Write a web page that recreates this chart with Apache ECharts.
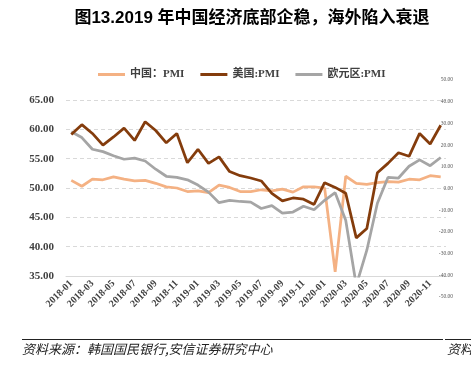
<!DOCTYPE html>
<html>
<head>
<meta charset="utf-8">
<script src="https://cdn.jsdelivr.net/npm/echarts@6/dist/echarts.min.js"></script>
<style>
  html, body { margin: 0; padding: 0; background: #fff; }
  #pmiChart { width: 471px; height: 369px; }
</style>
</head>
<body>
<div id="pmiChart"></div>
<script>
// months 2018-01 .. 2020-12
const months = [];
for (let y = 2018; y <= 2020; y++) {
  for (let m = 1; m <= 12; m++) months.push(y + '-' + (m < 10 ? '0' + m : m));
}

const chinaPmi = [51.3, 50.3, 51.5, 51.4, 51.9, 51.5, 51.2, 51.3, 50.8, 50.2, 50.0, 49.4,
                  49.5, 49.2, 50.5, 50.1, 49.4, 49.4, 49.7, 49.5, 49.8, 49.3, 50.2, 50.2,
                  50.0, 35.7, 52.0, 50.8, 50.6, 50.9, 51.1, 51.0, 51.5, 51.4, 52.1, 51.9];
const usPmi = [59.1, 60.8, 59.3, 57.3, 58.7, 60.2, 58.1, 61.3, 59.8, 57.7, 59.3, 54.3,
               56.6, 54.2, 55.3, 52.8, 52.1, 51.7, 51.2, 49.1, 47.8, 48.3, 48.1, 47.2,
               50.9, 50.1, 49.1, 41.5, 43.1, 52.6, 54.2, 56.0, 55.4, 59.3, 57.5, 60.7];
const euroPmi = [59.6, 58.6, 56.6, 56.2, 55.5, 54.9, 55.1, 54.6, 53.2, 52.0, 51.8, 51.4,
                 50.5, 49.3, 47.5, 47.9, 47.7, 47.6, 46.5, 47.0, 45.7, 45.9, 46.9, 46.3,
                 47.9, 49.2, 44.5, 33.4, 39.4, 47.4, 51.8, 51.7, 53.7, 54.8, 53.8, 55.2];

const seriesNames = ['中国：PMI', '美国:PMI', '欧元区:PMI'];
const seriesColors = ['#f4b183', '#843c0c', '#a5a5a5'];

const serif = '"Liberation Serif", "Noto Sans CJK SC", serif';

const pmiChart = echarts.init(document.getElementById('pmiChart'));
const option = {
  animation: false,
  color: seriesColors,
  title: {
    text: '图13.2019 年中国经济底部企稳，海外陷入衰退',
    left: 247,
    textAlign: 'center',
    top: 5,
    textStyle: {
      fontFamily: '"Liberation Sans", "Noto Sans CJK SC", sans-serif',
      fontSize: 17,
      fontWeight: 'bold',
      color: '#000'
    }
  },
  legend: {
    data: seriesNames,
    left: 98,
    top: 69,
    padding: 0,
    icon: 'rect',
    itemWidth: 27,
    itemHeight: 3,
    itemGap: 16,
    textStyle: { fontFamily: serif, fontSize: 11, fontWeight: 'bold', color: '#404040' }
  },
  grid: [
    { left: 66, right: 25, top: 100, bottom: 93 },
    { left: 66, right: 25, top: 80, bottom: 72 }
  ],
  xAxis: [
    {
      type: 'category',
      data: months,
      boundaryGap: true,
      axisLine: { lineStyle: { color: '#d9d9d9', width: 1 } },
      axisTick: { interval: 1, length: 5, lineStyle: { color: '#d9d9d9' } },
      axisLabel: {
        interval: 1,
        rotate: 45,
        margin: 6,
        fontFamily: serif,
        fontSize: 10,
        fontWeight: 'bold',
        color: '#404040'
      }
    },
    { type: 'value', gridIndex: 1, show: false, min: 0, max: 1 }
  ],
  yAxis: [
    {
      type: 'value',
      min: 35,
      max: 65,
      interval: 5,
      axisLine: { show: false },
      axisTick: { show: false },
      splitLine: { lineStyle: { color: '#d9d9d9', type: [4, 3] } },
      axisLabel: {
        margin: 12,
        fontFamily: serif,
        fontSize: 11,
        fontWeight: 'bold',
        color: '#404040',
        formatter: v => v.toFixed(2)
      }
    },
    {
      type: 'value',
      gridIndex: 1,
      position: 'right',
      min: -50,
      max: 50,
      interval: 10,
      axisLine: { show: false },
      axisTick: { show: false },
      splitLine: { show: false },
      axisLabel: {
        margin: 7,
        align: 'right',
        fontFamily: serif,
        fontSize: 5.5,
        color: '#595959',
        formatter: v => v.toFixed(2)
      }
    }
  ],
  series: [
    { name: seriesNames[0], type: 'line', data: chinaPmi, symbol: 'none', lineStyle: { width: 2.75 }, z: 2 },
    { name: seriesNames[1], type: 'line', data: usPmi, symbol: 'none', lineStyle: { width: 2.75 }, z: 4 },
    { name: seriesNames[2], type: 'line', data: euroPmi, symbol: 'none', lineStyle: { width: 2.75 }, z: 3 }
  ],
  graphic: [
    { type: 'line', shape: { x1: 22, y1: 339.5, x2: 443, y2: 339.5 }, style: { stroke: '#222', lineWidth: 1 } },
    { type: 'line', shape: { x1: 445, y1: 339.5, x2: 471, y2: 339.5 }, style: { stroke: '#222', lineWidth: 1 } },
    {
      type: 'text', left: 22, top: 343,
      style: { text: '资料来源：韩国国民银行,安信证券研究中心', font: 'italic 13px "Noto Sans CJK SC"', fill: '#222' }
    },
    {
      type: 'text', left: 447, top: 343,
      style: { text: '资料来源：', font: 'italic 13px "Noto Sans CJK SC"', fill: '#222' }
    }
  ]
};
pmiChart.setOption(option);
</script>
</body>
</html>
